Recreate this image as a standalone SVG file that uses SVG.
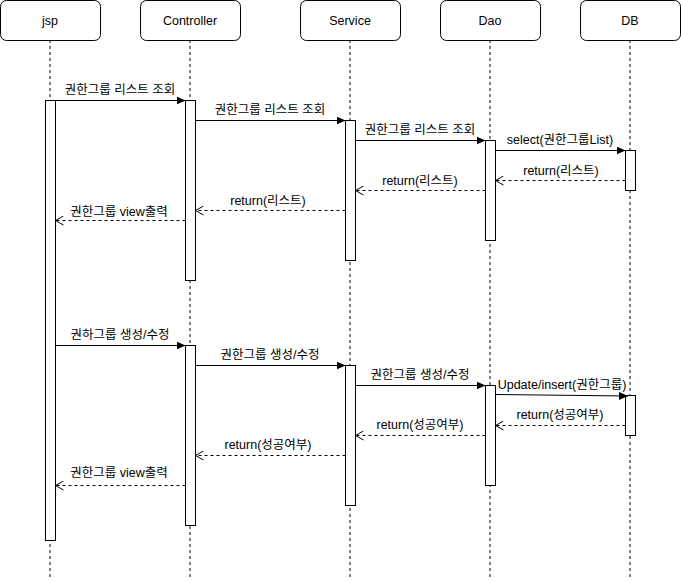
<svg xmlns="http://www.w3.org/2000/svg" width="681" height="581" viewBox="0 0 681 581">
<style>
.hdr{fill:#fff;stroke:#000;stroke-width:1}
.life{stroke:#000;stroke-width:1;stroke-dasharray:3 3;fill:none}
.act{fill:#fff;stroke:#000;stroke-width:1}
.call{stroke:#000;stroke-width:1;fill:none;marker-end:url(#block)}
.ret{stroke:#000;stroke-width:1;stroke-dasharray:3 3;fill:none;marker-end:url(#open)}
text{font-family:"Liberation Sans","Noto Sans CJK KR",sans-serif;font-size:12.5px;fill:#000;text-anchor:middle}
</style>
<defs>
<marker id="block" markerWidth="10" markerHeight="8" refX="9" refY="4" orient="auto" markerUnits="userSpaceOnUse">
<path d="M0,0 L9,4 L0,8 Z" fill="#000"/>
</marker>
<marker id="open" markerWidth="10" markerHeight="10" refX="9" refY="5" orient="auto" markerUnits="userSpaceOnUse">
<path d="M1,0.5 L9,5 L1,9.5" fill="none" stroke="#000" stroke-width="1"/>
</marker>
</defs>
<rect width="681" height="581" fill="#fff"/>
<g id="jsp">
<rect class="hdr" x="0.5" y="0.5" width="100" height="40" rx="6"/>
<text x="50" y="25">jsp</text>
<line class="life" x1="50" y1="40" x2="50" y2="580"/>
<rect class="act" x="45.5" y="100.5" width="10" height="440"/>
</g>
<g id="controller">
<rect class="hdr" x="140.5" y="0.5" width="100" height="40" rx="6"/>
<text x="190" y="25">Controller</text>
<line class="life" x1="190" y1="40" x2="190" y2="580"/>
<rect class="act" x="185.5" y="100.5" width="10" height="180"/>
<rect class="act" x="185.5" y="345.5" width="10" height="180"/>
</g>
<g id="service">
<rect class="hdr" x="300.5" y="0.5" width="100" height="40" rx="6"/>
<text x="350" y="25">Service</text>
<line class="life" x1="350" y1="40" x2="350" y2="580"/>
<rect class="act" x="345.5" y="120.5" width="10" height="140"/>
<rect class="act" x="345.5" y="365.5" width="10" height="140"/>
</g>
<g id="dao">
<rect class="hdr" x="440.5" y="0.5" width="100" height="40" rx="6"/>
<text x="490" y="25">Dao</text>
<line class="life" x1="490" y1="40" x2="490" y2="580"/>
<rect class="act" x="485.5" y="140.5" width="10" height="100"/>
<rect class="act" x="485.5" y="385.5" width="10" height="100"/>
</g>
<g id="db">
<rect class="hdr" x="580.5" y="0.5" width="100" height="40" rx="6"/>
<text x="630" y="25">DB</text>
<line class="life" x1="630" y1="40" x2="630" y2="580"/>
<rect class="act" x="625.5" y="150.5" width="10" height="40"/>
<rect class="act" x="625.5" y="395.5" width="10" height="40"/>
</g>
<g id="connectors">
<line class="call" x1="55.5" y1="100.5" x2="185.5" y2="100.5"/>
<text x="120" y="94">권한그룹 리스트 조회</text>
<line class="call" x1="195.5" y1="120.5" x2="345.5" y2="120.5"/>
<text x="270" y="114">권한그룹 리스트 조회</text>
<line class="call" x1="355.5" y1="140.5" x2="485.5" y2="140.5"/>
<text x="420" y="134">권한그룹 리스트 조회</text>
<line class="call" x1="495.5" y1="150.5" x2="625.5" y2="150.5"/>
<text x="560" y="144">select(권한그룹List)</text>
<line class="ret" x1="625.5" y1="180.5" x2="495.5" y2="180.5"/>
<text x="561" y="175">return(리스트)</text>
<line class="ret" x1="485.5" y1="190.5" x2="355.5" y2="190.5"/>
<text x="420" y="185">return(리스트)</text>
<line class="ret" x1="345.5" y1="210.5" x2="195.5" y2="210.5"/>
<text x="268" y="205">return(리스트)</text>
<line class="ret" x1="185.5" y1="220.5" x2="55.5" y2="220.5"/>
<text x="119" y="216">권한그룹 view출력</text>
<line class="call" x1="55.5" y1="345.5" x2="185.5" y2="345.5"/>
<text x="120" y="339">권하그룹 생성/수정</text>
<line class="call" x1="195.5" y1="365.5" x2="345.5" y2="365.5"/>
<text x="270" y="359">권한그룹 생성/수정</text>
<line class="call" x1="355.5" y1="385.5" x2="485.5" y2="385.5"/>
<text x="420" y="379">권한그룹 생성/수정</text>
<line class="call" x1="495.5" y1="394.5" x2="628" y2="396"/>
<text x="562" y="389">Update/insert(권한그룹)</text>
<line class="ret" x1="625.5" y1="425.5" x2="495.5" y2="425.5"/>
<text x="560" y="419">return(성공여부)</text>
<line class="ret" x1="485.5" y1="435.5" x2="355.5" y2="435.5"/>
<text x="420" y="429">return(성공여부)</text>
<line class="ret" x1="345.5" y1="455.5" x2="195.5" y2="455.5"/>
<text x="268" y="449">return(성공여부)</text>
<line class="ret" x1="185.5" y1="485.5" x2="55.5" y2="485.5"/>
<text x="119" y="477">권한그룹 view출력</text>
</g>
</svg>
